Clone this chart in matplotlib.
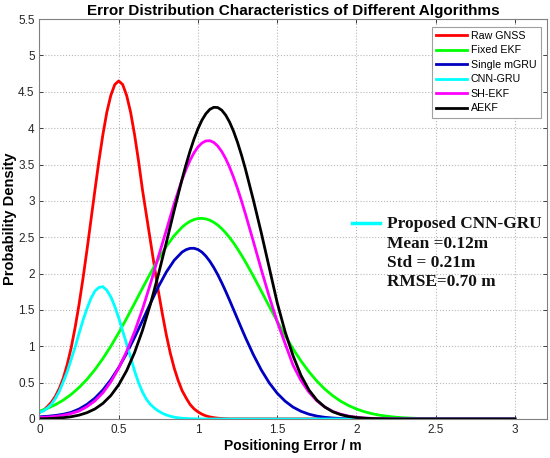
import numpy as np
import matplotlib
matplotlib.use("Agg")
import matplotlib.pyplot as plt
from matplotlib.ticker import FuncFormatter

plt.rcParams['font.family'] = ['Liberation Sans', 'DejaVu Sans']

# x grids (m): finer steps where the curves bend sharply
x_fine = np.round(np.arange(0, 1.2001, 0.025), 3)   # narrow curves
x_wide = np.round(np.r_[np.arange(0, 0.8751, 0.05),
                        np.arange(0.9, 1.2751, 0.025),
                        np.arange(1.3, 3.0001, 0.05)], 3)  # broad curves

# probability density
raw_gnss = [0.09, 0.12, 0.17, 0.23, 0.31, 0.42, 0.56, 0.75, 0.98, 1.26,
            1.58, 1.94, 2.33, 2.74, 3.15, 3.55, 3.91, 4.22, 4.45, 4.60,
            4.65, 4.60, 4.45, 4.22, 3.91, 3.55, 3.15, 2.80, 2.45, 2.10,
            1.76, 1.45, 1.16, 0.91, 0.70, 0.53, 0.39, 0.29, 0.20, 0.14,
            0.098, 0.066, 0.043, 0.028, 0.018, 0.011, 0.007, 0.004, 0.002]

cnn_gru = [0.09, 0.11, 0.15, 0.20, 0.28, 0.38, 0.51, 0.65, 0.82, 0.99,
           1.18, 1.36, 1.52, 1.66, 1.76, 1.81, 1.82, 1.77, 1.68, 1.55,
           1.39, 1.21, 1.03, 0.85, 0.66, 0.50, 0.37, 0.27, 0.20, 0.15,
           0.11, 0.08, 0.055, 0.038, 0.025, 0.016, 0.010, 0.006, 0.004, 0.002,
           0.001, 0, 0, 0, 0, 0, 0, 0, 0]

fixed_ekf = [0.107, 0.146, 0.196, 0.259, 0.338, 0.433, 0.546, 0.679, 0.831, 1.000,
             1.186, 1.384, 1.591, 1.800, 2.004, 2.198, 2.373, 2.522,
             2.639, 2.683, 2.718, 2.743, 2.757, 2.760, 2.752, 2.734,
             2.705, 2.667, 2.618, 2.560, 2.494, 2.421, 2.339, 2.252,
             2.160, 1.964, 1.758, 1.549, 1.344, 1.147, 0.965, 0.798, 0.651, 0.522,
             0.412, 0.321, 0.245, 0.185, 0.137, 0.100, 0.072, 0.051, 0.036, 0.024,
             0.016, 0.011, 0.007, 0.005, 0.003, 0.002, 0.001, 0, 0, 0,
             0, 0, 0, 0, 0]

single_mgru = [0.030, 0.037, 0.048, 0.065, 0.091, 0.137, 0.201, 0.287, 0.399, 0.539,
               0.707, 0.903, 1.121, 1.354, 1.591, 1.818, 2.020, 2.183,
               2.296, 2.329, 2.347, 2.348, 2.331, 2.295, 2.240, 2.169,
               2.083, 1.984, 1.874, 1.756, 1.631, 1.503, 1.374, 1.245,
               1.119, 0.882, 0.673, 0.496, 0.354, 0.245, 0.163, 0.106, 0.066, 0.040,
               0.023, 0.013, 0.007, 0.004, 0.002, 0.001, 0, 0, 0, 0,
               0, 0, 0, 0, 0, 0, 0, 0, 0, 0,
               0, 0, 0, 0, 0]

sh_ekf = [0.020, 0.026, 0.035, 0.050, 0.075, 0.11, 0.17, 0.25, 0.36, 0.51,
          0.70, 0.93, 1.20, 1.51, 1.86, 2.23, 2.593, 2.963,
          3.293, 3.435, 3.558, 3.661, 3.741, 3.796, 3.825, 3.828,
          3.804, 3.754, 3.679, 3.581, 3.461, 3.322, 3.167, 2.998,
          2.818, 2.439, 2.053, 1.681, 1.339, 1.037, 0.74, 0.53, 0.37, 0.25,
          0.165, 0.105, 0.066, 0.040, 0.024, 0.014, 0.008, 0.004, 0.002, 0,
          0, 0, 0, 0, 0, 0, 0, 0, 0, 0,
          0, 0, 0, 0, 0]

aekf = [0.003, 0.005, 0.010, 0.018, 0.031, 0.053, 0.087, 0.138, 0.214, 0.322,
        0.470, 0.665, 0.914, 1.219, 1.579, 1.985, 2.423, 2.870,
        3.301, 3.500, 3.684, 3.849, 3.992, 4.110, 4.199, 4.259,
        4.287, 4.284, 4.248, 4.180, 4.082, 3.955, 3.803, 3.628,
        3.435, 3.009, 2.557, 2.08, 1.60, 1.20, 0.87, 0.60, 0.40, 0.26,
        0.165, 0.10, 0.06, 0.035, 0.020, 0.011, 0.006, 0.003, 0.001, 0,
        0, 0, 0, 0, 0, 0, 0, 0, 0, 0,
        0, 0, 0, 0, 0]

labels = ["Raw GNSS", "Fixed EKF", "Single mGRU", "CNN-GRU", "SH-EKF", "AEKF"]
colors = ["#ff0000", "#00ff00", "#0000c0", "#00ffff", "#ff00ff", "#000000"]

fig = plt.figure(figsize=(5.5, 4.58), dpi=100)
ax = fig.add_axes([0.0718, 0.0852, 0.922, 0.873])

# narrow curves stay at zero out to 3 m
fine_ext = np.r_[x_fine, 3.0]
series = [
    (fine_ext, np.r_[raw_gnss, 0.0]),
    (x_wide, np.array(fixed_ekf)),
    (x_wide, np.array(single_mgru)),
    (fine_ext, np.r_[cnn_gru, 0.0]),
    (x_wide, np.array(sh_ekf)),
    (x_wide, np.array(aekf)),
]
for (xs, ys), lab, col in zip(series, labels, colors):
    ax.plot(xs, ys, color=col, lw=2.0, label=lab, solid_joinstyle='round')

ax.set_xlim(0, 3.2)
ax.set_ylim(0, 5.5)
ax.set_xticks(np.arange(0, 3.01, 0.5))
ax.set_yticks(np.arange(0, 5.51, 0.5))
ax.xaxis.set_major_formatter(FuncFormatter(lambda v, p: f"{v:g}"))
ax.yaxis.set_major_formatter(FuncFormatter(lambda v, p: f"{v:g}"))
ax.tick_params(direction='in', top=True, right=True, length=3, width=0.6,
               colors='#262626', labelsize=8.5, pad=3.5)
for s in ax.spines.values():
    s.set_color('#808080')
    s.set_linewidth(0.8)
ax.grid(True, linestyle=':', color='#b8b8b8', linewidth=0.8)
ax.set_axisbelow(True)

ax.set_title("Error Distribution Characteristics of Different Algorithms",
             fontsize=11, fontweight='bold', pad=3)
ax.set_xlabel("Positioning Error / m", fontsize=10, fontweight='bold', labelpad=2)
ax.set_ylabel("Probability Density", fontsize=10.5, fontweight='bold', labelpad=1)

leg = ax.legend(loc='upper right', bbox_to_anchor=(0.988, 0.9815), borderaxespad=0,
                fontsize=7.7, handlelength=2.9, labelspacing=0.42, handletextpad=0.35,
                fancybox=False, framealpha=1, edgecolor='#a0a0a0', borderpad=0.4)
leg.get_frame().set_linewidth(0.8)

# annotation for the proposed method
ax.plot([1.971, 2.15], [2.69, 2.69], color='#00ffff', lw=2.5)
serif = dict(family=['Liberation Serif', 'DejaVu Serif'], fontweight='bold', color='#111111')
ax.text(2.192, 2.626, "Proposed CNN-GRU", fontsize=12.4, va='baseline', **serif)
ax.text(2.192, 2.351, "Mean =0.12m", fontsize=12.4, va='baseline', **serif)
ax.text(2.192, 2.094, "Std = 0.21m", fontsize=12.4, va='baseline', **serif)
ax.text(2.192, 1.829, "RMSE=0.70 m", fontsize=12.4, va='baseline', **serif)

fig.savefig("out.png", dpi=100)
